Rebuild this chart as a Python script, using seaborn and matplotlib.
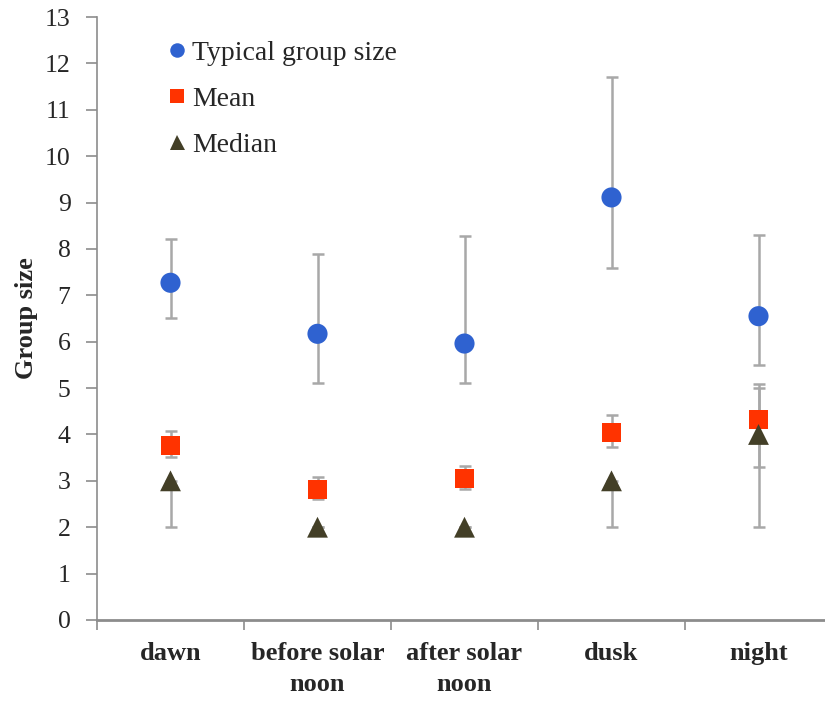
import numpy as np
import pandas as pd
import matplotlib
matplotlib.use("Agg")
import matplotlib.pyplot as plt
import seaborn as sns
from matplotlib.lines import Line2D

# Time-of-day categories
periods = ["dawn", "before solar\nnoon", "after solar\nnoon", "dusk", "night"]

# Typical group size with its error range
typical = [7.27, 6.17, 5.96, 9.11, 6.55]
typical_lo = [6.51, 5.10, 5.12, 7.59, 5.50]
typical_hi = [8.21, 7.88, 8.28, 11.71, 8.29]

# Mean group size with its error range
mean = [3.77, 2.82, 3.05, 4.05, 4.33]
mean_lo = [3.52, 2.60, 2.82, 3.74, 3.30]
mean_hi = [4.07, 3.09, 3.31, 4.42, 5.09]

# Median group size with its error range
median = [3.0, 2.0, 2.0, 3.0, 4.0]
median_lo = [2.0, 2.0, 2.0, 2.0, 2.0]
median_hi = [3.0, 2.0, 2.0, 3.0, 5.0]

sns.set_theme(style="white")
plt.rcParams["font.family"] = ["Liberation Serif", "DejaVu Serif"]

fig = plt.figure(figsize=(8.25, 7.01), dpi=100)
ax = fig.add_axes([97 / 825, 1 - 620 / 701, 735 / 825, 603 / 701])

series = [
    ("Typical group size", typical, typical_lo, typical_hi, "o", "#2f62d0", 14.5),
    ("Mean", mean, mean_lo, mean_hi, "s", "#ff3300", 13.5),
    ("Median", median, median_lo, median_hi, "^", "#433f27", 15.0),
]

xpos = np.arange(len(periods))
err_color = "#a8a8a8"

for name, vals, lo, hi, mk, col, ms in series:
    vals = np.array(vals)
    yerr = np.vstack([vals - np.array(lo), np.array(hi) - vals])
    ax.errorbar(xpos, vals, yerr=yerr, fmt="none", ecolor=err_color,
                elinewidth=1.8, capsize=4, capthick=1.8, zorder=2)

for name, vals, lo, hi, mk, col, ms in series:
    df = pd.DataFrame({"x": xpos, "y": vals})
    sns.scatterplot(data=df, x="x", y="y", marker=mk, color=col,
                    s=ms ** 2, edgecolor="none", linewidth=0, ax=ax, zorder=3)

ax.set_xlim(-0.5, len(periods) - 0.5)
ax.set_ylim(0, 13)
ax.set_yticks(range(0, 14))
ax.set_xticks(xpos)
ax.set_xticklabels(periods, fontsize=19, fontweight="bold", linespacing=1.45)
ax.set_xticks(np.arange(-0.5, len(periods) - 0.4, 1.0), minor=True)
ax.tick_params(axis="x", which="major", length=0, pad=16)
ax.tick_params(axis="x", which="minor", length=7, width=1.2, color="#8c8c8c",
               direction="out", bottom=True)
ax.tick_params(axis="y", which="major", length=8, width=1.2, color="#8c8c8c",
               direction="out", left=True, labelsize=18.5, pad=11)
ax.set_xlabel("")
ax.set_ylabel("Group size", fontsize=19, fontweight="bold", labelpad=5)

for s in ["top", "right"]:
    ax.spines[s].set_visible(False)
ax.spines["left"].set_color("#8c8c8c")
ax.spines["left"].set_linewidth(1.2)
ax.spines["bottom"].set_color("#8c8c8c")
ax.spines["bottom"].set_linewidth(2.0)

handles = [
    Line2D([], [], linestyle="none", marker=mk, color=col, markersize=ms * 0.72,
           markeredgewidth=0)
    for name, vals, lo, hi, mk, col, ms in series
]
labels = [s[0] for s in series]
ax.legend(handles, labels, loc="upper left", bbox_to_anchor=(0.08, 0.979),
          frameon=False, fontsize=20, handlelength=0.7, handletextpad=0.2,
          labelspacing=0.74, borderaxespad=0)

fig.savefig("out.png", dpi=100)
